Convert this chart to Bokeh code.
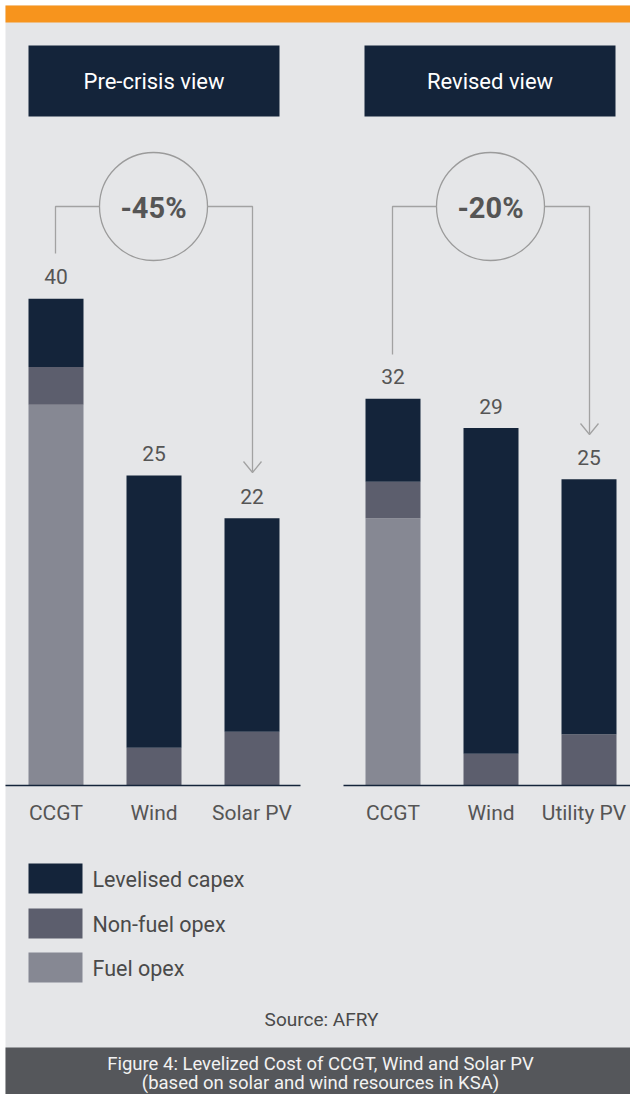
from bokeh.plotting import figure
from bokeh.models import ColumnDataSource, Range1d
from bokeh.core.properties import value
from bokeh.embed import file_html
from bokeh.resources import INLINE

# ---------------- data ----------------
categories_pre = ["CCGT", "Wind", "Solar PV"]
categories_rev = ["CCGT", "Wind", "Utility PV"]
pre_capex = [5.6, 22.3, 17.5]
pre_nonfuel = [3.1, 3.1, 4.4]
pre_fuel = [31.2, 0.0, 0.0]
rev_capex = [6.8, 26.7, 20.9]
rev_nonfuel = [3.0, 2.6, 4.2]
rev_fuel = [21.9, 0.0, 0.0]
pre_totals = ["40", "25", "22"]
rev_totals = ["32", "29", "25"]
changes = ["-45%", "-20%"]
panel_titles = ["Pre-crisis view", "Revised view"]
series_names = ["Levelised capex", "Non-fuel opex", "Fuel opex"]
source_note = "Source: AFRY"
caption = ["Figure 4: Levelized Cost of CCGT, Wind and Solar PV",
           "(based on solar and wind resources in KSA)"]

# ---------------- layout helpers ----------------
W, H = 630, 1094
BASE = 785.0      # pixel y of value 0
S = 12.2          # px per unit
FONT = value("Roboto")
C_CAPEX, C_NONFUEL, C_FUEL = "#14243a", "#5c5e6d", "#868893"
BG = "#e5e6e8"
GREY_TXT = "#555555"
LINE_C = "#a2a2a2"


def Y(py):
    return (BASE - py) / S


p = figure(width=W, height=H, title=None,
           x_range=Range1d(0, W), y_range=Range1d(Y(H), Y(0)),
           output_backend="svg", toolbar_location=None,
           x_axis_location=None, y_axis_location=None, min_border=0)
p.grid.grid_line_color = None
p.outline_line_color = None
p.background_fill_color = "white"
p.border_fill_color = "white"

# panel background
p.quad(left=[5], right=[W], top=[Y(5)], bottom=[Y(H)], color=BG, line_color=None)

# top orange band
p.quad(left=[5], right=[W], top=[Y(5)], bottom=[Y(22)], color="#f7941d", line_color=None)

# header boxes
p.quad(left=[28, 364], right=[279, 615], top=[Y(45)] * 2, bottom=[Y(116)] * 2,
       color=C_CAPEX, line_color=None)
p.text(x=[153.5, 489.5], y=[Y(81)] * 2, text=panel_titles, text_font=FONT,
       text_font_size="22px", text_color="white", text_align="center",
       text_baseline="middle")

# bars
step = 98.0
xs = [55.5 + step * i for i in range(3)] + [392.5 + step * i for i in range(3)]
src = ColumnDataSource(dict(
    x=xs,
    cat=categories_pre + categories_rev,
    capex=pre_capex + rev_capex,
    nonfuel=pre_nonfuel + rev_nonfuel,
    fuel=pre_fuel + rev_fuel,
    total=[a + b + c for a, b, c in zip(pre_capex + rev_capex,
                                       pre_nonfuel + rev_nonfuel,
                                       pre_fuel + rev_fuel)],
    label=pre_totals + rev_totals,
    cat_dx=[0, 0, 0, 0, 0, -5],
))
p.vbar_stack(["fuel", "nonfuel", "capex"], x="x", width=55, source=src,
             color=[C_FUEL, C_NONFUEL, C_CAPEX], line_color=None)

# value labels
p.text(x="x", y="total", text="label", source=src, y_offset=-22,
       text_font=FONT, text_font_size="21px", text_color=GREY_TXT,
       text_align="center", text_baseline="middle")

# baselines
p.line([5, 300], [0, 0], line_color=C_CAPEX, line_width=1.5)
p.line([343, W], [0, 0], line_color=C_CAPEX, line_width=1.5)

# category labels
p.text(x="x", y=Y(812), text="cat", source=src, x_offset="cat_dx",
       text_font=FONT, text_font_size="21px", text_color=GREY_TXT,
       text_align="center", text_baseline="middle")

# change circles and connectors
p.scatter(x=[153, 490], y=[Y(206)] * 2, size=108, marker="circle",
          fill_color=None, line_color="#9b9b9b", line_width=1.3)
p.text(x=[153, 490], y=[Y(207)] * 2, text=changes, text_font=FONT,
       text_font_size="29px", text_font_style="bold", text_color=GREY_TXT,
       text_align="center", text_baseline="middle")

p.line([55, 55, 99], [Y(253), Y(206), Y(206)], line_color=LINE_C, line_width=1.3)
p.line([207, 252, 252], [Y(206), Y(206), Y(471)], line_color=LINE_C, line_width=1.3)
p.line([243, 252, 261], [Y(461), Y(472), Y(461)], line_color=LINE_C, line_width=1.3)

p.line([392, 392, 436], [Y(354), Y(206), Y(206)], line_color=LINE_C, line_width=1.3)
p.line([544, 589, 589], [Y(206), Y(206), Y(433)], line_color=LINE_C, line_width=1.3)
p.line([580, 589, 598], [Y(423), Y(434), Y(423)], line_color=LINE_C, line_width=1.3)

# legend
leg_top = [863, 908, 952]
p.quad(left=[28] * 3, right=[82] * 3, top=[Y(t) for t in leg_top],
       bottom=[Y(t + 30) for t in leg_top], color=[C_CAPEX, C_NONFUEL, C_FUEL],
       line_color=None)
p.text(x=[92] * 3, y=[Y(t + 16) for t in leg_top], text=series_names,
       text_font=FONT, text_font_size="21.5px", text_color="#4a4a4a",
       text_align="left", text_baseline="middle")

# source
p.text(x=[321], y=[Y(1019)], text=[source_note], text_font=FONT,
       text_font_size="19px", text_color="#4a4a4a", text_align="center",
       text_baseline="middle")

# footer
p.quad(left=[5], right=[W], top=[Y(1047)], bottom=[Y(H)], color="#55575b",
       line_color=None)
p.text(x=[320, 320], y=[Y(1063), Y(1082)], text=caption, text_font=FONT,
       text_font_size="18.5px", text_color="#f2f2f2", text_align="center",
       text_baseline="middle")

open("out.html", "w").write(file_html(p, INLINE))
